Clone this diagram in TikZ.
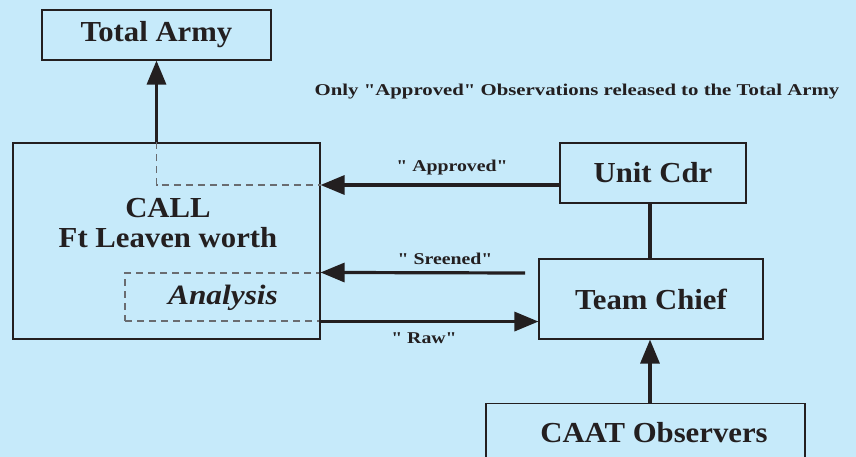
\documentclass[tikz,border=0pt]{standalone}
\usepackage{graphicx}
\usepackage{fontspec}
\setmainfont{Liberation Serif}[Ligatures=TeXOff]
\usetikzlibrary{arrows.meta,calc}

\definecolor{bgblue}{RGB}{198,234,250}
\definecolor{ink}{RGB}{35,31,32}
\definecolor{dashgray}{RGB}{105,108,112}

\newcommand{\bigtxt}{\fontsize{29}{33}\selectfont\bfseries}
\newcommand{\smalltxt}{\fontsize{16.5}{20}\selectfont\bfseries}
\newcommand{\wide}[2]{\scalebox{#1}[1]{#2}}

\tikzset{
  orgbox/.style={draw=ink, line width=1.1pt, inner sep=0pt, text=ink, font=\bigtxt},
  flow/.style={draw=ink, line width=3.2pt, ->, >={Triangle[length=24pt,width=19pt]}},
  guide/.style={draw=dashgray, line width=1.1pt, dash pattern=on 7pt off 5pt},
  tag/.style={text=ink, font=\smalltxt, inner sep=0pt}
}

\begin{document}
\begin{tikzpicture}[x=1pt,y=-1pt]
\fill [bgblue] (0,0) rectangle (856,457);
\useasboundingbox (0,0) rectangle (856,457);
\clip (0,0) rectangle (856,457);

% boxes
\node [orgbox, minimum width=229, minimum height=50] (army) at (156.5,35) {\wide{1.06}{Total Army}};
\node [guide, minimum width=195, minimum height=48, inner sep=0pt] (analysis) at (222.5,297) {};
\node [text=ink, font=\fontsize{28}{32}\selectfont\bfseries\itshape, inner sep=0pt] (analysistxt) at (223,298) {\wide{1.12}{Analysis}};
\node [orgbox, minimum width=307, minimum height=196] (call) at (166.5,241) {};
\node [text=ink, font=\bigtxt, align=center, inner sep=0pt] (calltxt) at (168,223) {\wide{1.06}{CALL}\\[-3pt]\wide{1.06}{Ft Leaven worth}};
\node [orgbox, minimum width=186, minimum height=60] (unit) at (653,173) {\wide{1.06}{Unit Cdr}};
\node [orgbox, minimum width=224, minimum height=80] (team) at (651,299) {\wide{1.06}{Team Chief}};
\node [orgbox, minimum width=319, minimum height=60, anchor=north] (caat) at (645.5,403) {};
\node [text=ink, font=\bigtxt, inner sep=0pt] (caattxt) at (654,433) {\wide{1.06}{CAAT Observers}};

\node [tag] (note) at (577,92) {\wide{1.26}{Only "Approved" Observations released to the Total Army}};

% dashed route inside CALL
\coordinate (apin) at ($(call.east |- unit.west)+(0,-12pt)$);
\draw [guide] (army.south |- call.north) -- (army.south |- apin) -- (apin);

% connectors
\draw [flow] (army.south |- call.north) -- (army.south);
\draw [flow] ([yshift=-12pt]unit.west) -- (apin);
\node [tag] (approved) at (452,168) {\wide{1.2}{" Approved"}};

\draw [draw=ink, line width=3.2pt] (unit.south -| 650,0) -- (team.north -| 650,0);

\coordinate (scrout) at (525,273);
\draw [flow] (scrout) -- (analysis.north east);
\node [tag] (screened) at (445,259) {\wide{1.2}{" Sreened"}};

\draw [flow] (analysis.south east) -- (team.west |- analysis.south east);
\node [tag] (raw) at (424,338) {\wide{1.2}{" Raw"}};

\draw [flow] (caat.north -| 650,0) -- (team.south -| 650,0);
\end{tikzpicture}
\end{document}
